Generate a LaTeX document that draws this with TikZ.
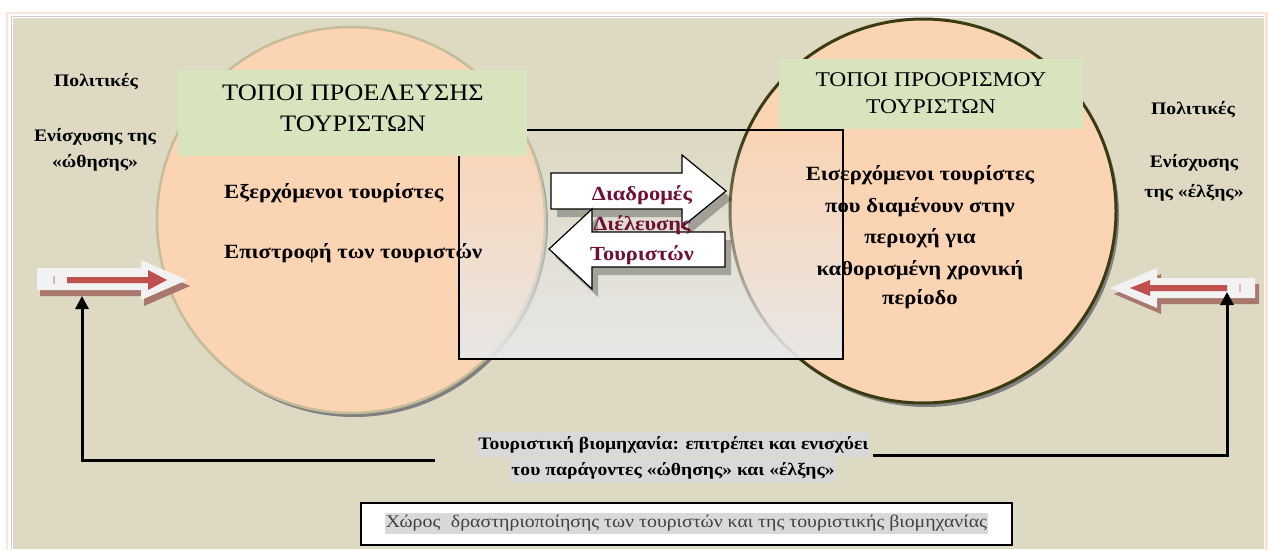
\documentclass[tikz,border=0pt]{standalone}
\usepackage{fontspec}
\setmainfont{Liberation Serif}[FakeStretch=1.12]
\usetikzlibrary{shapes.geometric,fadings,arrows.meta,shadows}
\definecolor{bgtan}{HTML}{DDD9C3}
\definecolor{peach}{HTML}{FBD4B4}
\definecolor{greenbox}{HTML}{D7E4BD}
\definecolor{khaki}{HTML}{C4BD97}
\definecolor{olivedark}{HTML}{3B3B12}
\definecolor{routetext}{HTML}{6E1038}
\definecolor{arrred}{HTML}{C0504D}
\definecolor{arrshadow}{HTML}{A8776E}
\definecolor{hl}{HTML}{D9D9D9}
\definecolor{framepeach}{HTML}{FCE4D6}
\definecolor{fadegray}{HTML}{E8E8E8}
\definecolor{shadowgray}{HTML}{808080}
\definecolor{lighttext}{HTML}{404040}
\tikzfading[name=rectfade, top color=transparent!100, bottom color=transparent!5]
\begin{document}
\begin{tikzpicture}[x=1pt,y=-1pt,
  place/.style={ellipse, fill=peach, inner sep=0pt, minimum width=388pt, minimum height=386pt,
     drop shadow={shadow xshift=3pt, shadow yshift=-4pt, fill=shadowgray, opacity=1}},
  titlebox/.style={fill=greenbox, inner sep=0pt},
  titletext/.style={font=\fontsize{#1}{#1}\selectfont, inner sep=0pt},
  bodytext/.style={font=\fontsize{#1}{#1}\bfseries\selectfont, inner sep=0pt},
  routetxt/.style={font=\fontsize{20}{20}\bfseries\selectfont, text=routetext, inner sep=0pt},
  blockarrow/.style={fill=white, draw=black, line width=1.2pt},
  blockshadow/.style={fill=black, opacity=0.28},
  sidearrow/.style={fill=white!95!black},
  redarrow/.style={fill=arrred},
  sideshadow/.style={fill=arrshadow},
  feedback/.style={line width=3pt, -{Triangle[width=13pt,length=13pt]}},
  hlline/.style={fill=hl, font=\fontsize{17.5}{17.5}\bfseries\selectfont, inner xsep=1pt, inner ysep=0pt, minimum height=25pt}
]
\useasboundingbox (0,0) rectangle (1268,549);
% page and frame
\fill[white] (0,0) rectangle (1268,549);
\draw[framepeach, line width=2.5pt] (7,551) -- (7,13) -- (1266.5,13) -- (1266.5,551);
\fill[bgtan] (13,18) rectangle (1264,549);
\draw[black!20, line width=0.8pt] (11,549) -- (11,16) -- (1264,16);

% the two places
\node[place, draw=khaki, line width=2.5pt] (orig) at (351,220) {};
\node[place, draw=olivedark, line width=3pt, minimum width=386pt, minimum height=384pt] (dest) at (923,211) {};

% the zone between them
\node[draw=black, line width=2pt, minimum width=384pt, minimum height=229pt, inner sep=0pt,
  preaction={fill=fadegray, path fading=rectfade}] (zone) at (651,244.5) {};

% title boxes
\node[titlebox, minimum width=349pt, minimum height=86pt] (origbox) at (352.5,113) {};
\node[titletext=23.6] (origt1) at (353,93) {ΤΟΠΟΙ ΠΡΟΕΛΕΥΣΗΣ};
\node[titletext=23.6] (origt2) at (353,124) {ΤΟΥΡΙΣΤΩΝ};
\node[titlebox, minimum width=304pt, minimum height=70pt] (destbox) at (931,94) {};
\node[titletext=21] (destt1) at (931,80) {ΤΟΠΟΙ ΠΡΟΟΡΙΣΜΟΥ};
\node[titletext=21] (destt2) at (931,107) {ΤΟΥΡΙΣΤΩΝ};

% texts in the places
\node[bodytext=20.2, anchor=west] (out) at (224,193) {Εξερχόμενοι τουρίστες};
\node[bodytext=20.2, anchor=west] (ret) at (224,253) {Επιστροφή των τουριστών};
\node[bodytext=20.2] (in1) at (920,175) {Εισερχόμενοι τουρίστες};
\node[bodytext=20.2] (in2) at (920,207) {που διαμένουν στην};
\node[bodytext=20.2] (in3) at (920,238) {περιοχή για};
\node[bodytext=20.2] (in4) at (920,270) {καθορισμένη χρονική};
\node[bodytext=20.2] (in5) at (920,299) {περίοδο};

% policies
\node[bodytext=17.6] (pl1) at (96,82) {Πολιτικές};
\node[bodytext=17.6] (pl2) at (95,137) {Ενίσχυσης της};
\node[bodytext=17.6] (pl3) at (95,163) {«ώθησης»};
\node[bodytext=17.6] (pr1) at (1193,110) {Πολιτικές};
\node[bodytext=17.6] (pr2) at (1194,163) {Ενίσχυσης};
\node[bodytext=17.6] (pr3) at (1194,193) {της «έλξης»};

% routes between the places
\fill[blockshadow] (557,181) -- (688,181) -- (688,163) -- (732,199) -- (688,235) -- (688,217) -- (557,217) -- cycle;
\fill[blockshadow] (555,257) -- (598,217) -- (598,240) -- (731,240) -- (731,275) -- (598,275) -- (598,297) -- cycle;
\path[blockarrow] (551,173) -- (682,173) -- (682,155) -- (726,191) -- (682,227) -- (682,209) -- (551,209) -- cycle;
\path[blockarrow] (549,249) -- (592,209) -- (592,232) -- (725,232) -- (725,267) -- (592,267) -- (592,289) -- cycle;
\node[routetxt] (r1) at (642,195) {Διαδρομές};
\node[routetxt] (r2) at (642,225) {Διέλευσης};
\node[routetxt] (r3) at (642,255) {Τουριστών};

% push arrow (left)
\fill[sideshadow] (40,274) -- (144,274) -- (144,266) -- (190,286) -- (144,306) -- (144,296) -- (40,296) -- cycle;
\fill[sidearrow] (37,268) -- (141,268) -- (141,260) -- (187,280) -- (141,300) -- (141,290) -- (37,290) -- cycle;
\fill[redarrow] (67,277) -- (148,277) -- (148,270) -- (167,280) -- (148,290) -- (148,283) -- (67,283) -- cycle;
\draw[arrred!45, line width=1.5pt] (54,276) -- (54,284);
% pull arrow (right)
\fill[sideshadow] (1114,294) -- (1161,274) -- (1161,284) -- (1259,284) -- (1259,304) -- (1161,304) -- (1161,314) -- cycle;
\fill[sidearrow] (1110,288) -- (1157,268) -- (1157,278) -- (1255,278) -- (1255,298) -- (1157,298) -- (1157,308) -- cycle;
\fill[redarrow] (1130,288) -- (1150,280) -- (1150,285) -- (1227,285) -- (1227,291) -- (1150,291) -- (1150,296) -- cycle;
\draw[arrred!45, line width=1.5pt] (1240,284) -- (1240,292);

% tourist industry
\node[hlline] (ind1) at (673.5,444.5) {Τουριστική βιομηχανία: επιτρέπει και ενισχύει};
\node[hlline] (ind2) at (673,470.5) {του παράγοντες «ώθησης» και «έλξης»};
\coordinate (lstart) at (435,460);
\coordinate (ltip) at (82,296);
\coordinate (rstart) at (873,455);
\coordinate (rtip) at (1227,292);
\draw[feedback] (lstart) -| (ltip);
\draw[feedback] (rstart) -| (rtip);

% activity space
\node[draw=black, fill=white, line width=1.5pt, minimum width=651pt, minimum height=42pt, inner sep=0pt] (space) at (686.5,524) {};
\node[fill=hl, text=lighttext, font=\fontsize{17.7}{17.7}\selectfont, inner xsep=1pt, inner ysep=0pt, minimum height=21pt] (spacetext) at (686.5,523.5) {Χώρος\hspace{0.6em}δραστηριοποίησης των τουριστών και της τουριστικής βιομηχανίας};
\end{tikzpicture}
\end{document}
